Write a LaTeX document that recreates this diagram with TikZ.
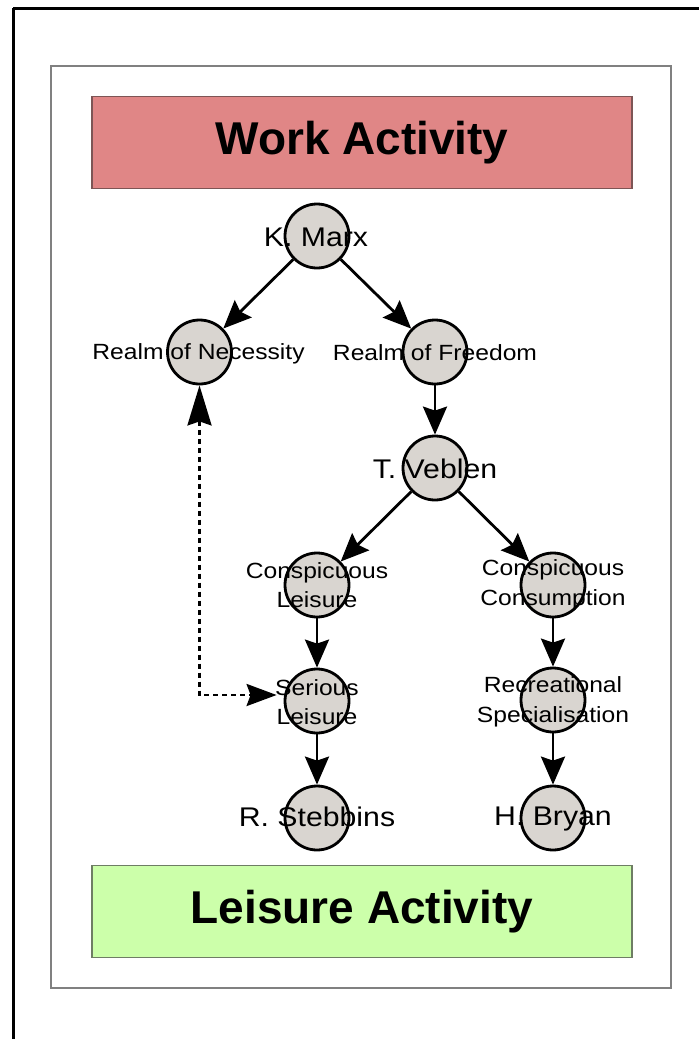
\documentclass[tikz,border=0pt]{standalone}
\usepackage{fontspec}
\setmainfont{Liberation Sans}
\newfontfamily\lblfont[FakeStretch=1.12]{Liberation Sans}
\usetikzlibrary{arrows.meta}
\definecolor{circfill}{RGB}{217,213,208}
\definecolor{workfill}{RGB}{224,134,134}
\definecolor{workdraw}{RGB}{125,85,85}
\definecolor{leisfill}{RGB}{204,255,170}
\definecolor{leisdraw}{RGB}{110,125,100}
\definecolor{framegray}{RGB}{128,128,128}
\tikzset{
  disc/.style={circle, draw=black, line width=2.8pt, fill=circfill, minimum size=64pt, inner sep=0pt},
  smalllbl/.style={font=\lblfont\fontsize{22}{26}\selectfont, anchor=base, inner sep=0pt},
  biglbl/.style={font=\lblfont\fontsize{27}{32}\selectfont, anchor=base, inner sep=0pt},
  headbox/.style={font=\bfseries\fontsize{46}{52}\selectfont, line width=1.5pt, minimum width=540pt, minimum height=92pt, inner sep=0pt},
  flow/.style={line width=2.8pt, -{Stealth[length=28pt,width=24pt,inset=4pt]}},
  dashline/.style={line width=2.8pt, dash pattern=on 5pt off 4pt,
    {Stealth[length=40pt,width=24pt,inset=4pt]}-{Stealth[length=30pt,width=22pt,inset=4pt]}}
}
\begin{document}
\begin{tikzpicture}[x=1pt,y=-1pt]
\useasboundingbox (0,0) rectangle (699,1039);
% outer frame (only top and left edges visible)
\draw[line width=3pt, black] (13,8) -- (699,8);
\draw[line width=3pt, black] (13,8) -- (13,1039);
% inner frame
\draw[line width=1.8pt, draw=framegray] (51,66) rectangle (671,988);
% header boxes
\node[headbox, fill=workfill, draw=workdraw] (work) at (362,142.5) {Work Activity};
\node[headbox, fill=leisfill, draw=leisdraw] (leis) at (362,911.5) {Leisure Activity};
% circles
\node[disc] (marx) at (317,236) {};
\node[disc] (nec) at (199.5,352) {};
\node[disc] (free) at (435,352) {};
\node[disc] (veb) at (435,468) {};
\node[disc] (cl) at (317,585) {};
\node[disc] (cc) at (553,585) {};
\node[disc] (sl) at (317,701) {};
\node[disc] (rs) at (553,700) {};
\node[disc] (steb) at (317,818) {};
\node[disc] (bry) at (553,818) {};
% connectors
\draw[flow] (marx) -- (nec);
\draw[flow] (marx) -- (free);
\draw[flow] (free) -- (veb);
\draw[flow] (veb) -- (cl);
\draw[flow] (veb) -- (cc);
\draw[flow] (cl) -- (sl);
\draw[flow] (sl) -- (steb);
\draw[flow] (cc) -- (rs);
\draw[flow] (rs) -- (bry);
\coordinate (dcorner) at (199.5,695);
\draw[dashline] (nec) -- (dcorner) -- ([xshift=-7pt]sl.west |- dcorner);
% labels
\node[biglbl] (tmarx) at (316,246) {K. Marx};
\node[smalllbl] (tnec) at (198.5,359) {Realm of Necessity};
\node[smalllbl] (tfree) at (435,360) {Realm of Freedom};
\node[biglbl] (tveb) at (435,478) {T. Veblen};
\node[smalllbl] (tcla) at (317,578) {Conspicuous};
\node[smalllbl] (tclb) at (317,607) {Leisure};
\node[smalllbl] (tcca) at (553,575) {Conspicuous};
\node[smalllbl] (tccb) at (553,605) {Consumption};
\node[smalllbl] (tsla) at (317,695) {Serious};
\node[smalllbl] (tslb) at (317,724) {Leisure};
\node[smalllbl] (trsa) at (553,692) {Recreational};
\node[smalllbl] (trsb) at (553,722) {Specialisation};
\node[biglbl] (tsteb) at (317,826) {R. Stebbins};
\node[biglbl] (tbry) at (553,825) {H. Bryan};
\end{tikzpicture}
\end{document}
